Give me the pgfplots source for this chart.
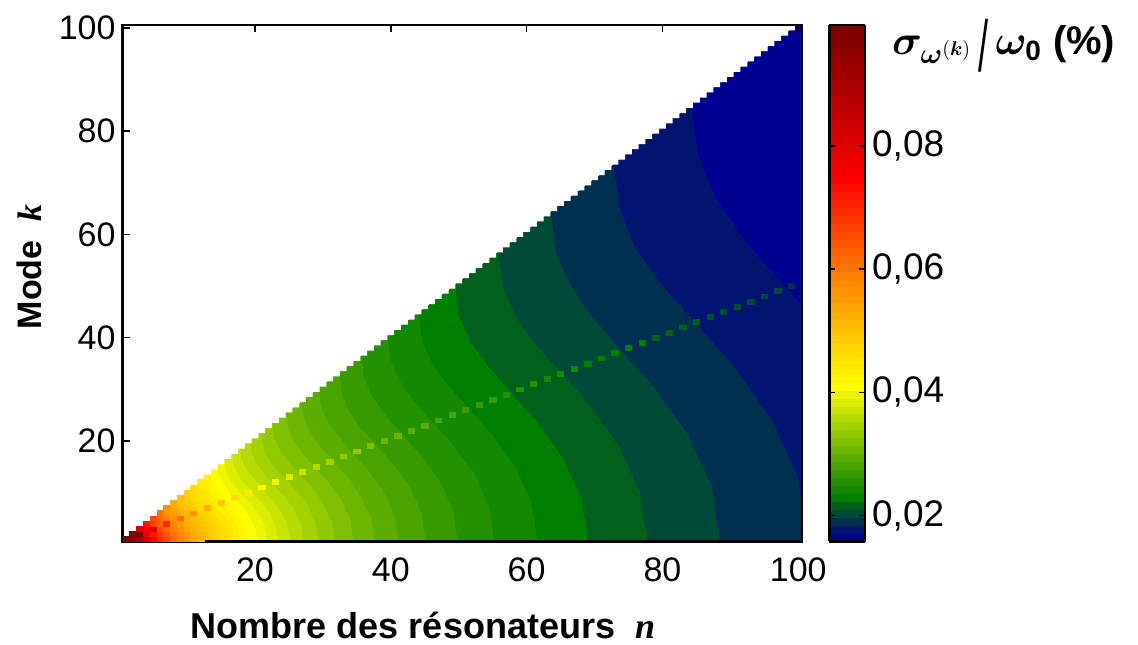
\documentclass[border=0pt]{standalone}
\usepackage{fontspec}
\setmainfont{Liberation Sans}
\newfontfamily\serifit{Liberation Serif}
\usepackage{amsmath}
\usepackage{bm}
\usepackage{graphicx}
\usepackage{pgfplots}
\pgfplotsset{compat=1.18}

% 64-level colormap (+ duplicate top entry)
\pgfplotsset{
  colormap={sigmap}{
    rgb255=(0,0,144) rgb255=(0,20,112) rgb255=(0,48,80) rgb255=(0,74,56)
    rgb255=(0,96,28) rgb255=(0,128,0) rgb255=(18,137,0) rgb255=(36,146,0)
    rgb255=(55,155,0) rgb255=(73,164,0) rgb255=(91,173,0) rgb255=(109,182,0)
    rgb255=(128,192,0) rgb255=(146,201,0) rgb255=(164,210,0) rgb255=(182,219,0)
    rgb255=(200,228,0) rgb255=(219,237,0) rgb255=(237,246,0) rgb255=(255,255,0)
    rgb255=(255,246,0) rgb255=(255,237,0) rgb255=(255,228,0) rgb255=(255,219,0)
    rgb255=(255,210,0) rgb255=(255,201,0) rgb255=(255,192,0) rgb255=(255,182,0)
    rgb255=(255,173,0) rgb255=(255,164,0) rgb255=(255,155,0) rgb255=(255,146,0)
    rgb255=(255,137,0) rgb255=(255,128,0) rgb255=(255,117,0) rgb255=(255,107,0)
    rgb255=(255,96,0) rgb255=(255,85,0) rgb255=(255,75,0) rgb255=(255,64,0)
    rgb255=(255,53,0) rgb255=(255,43,0) rgb255=(255,32,0) rgb255=(255,21,0)
    rgb255=(255,11,0) rgb255=(255,0,0) rgb255=(248,0,0) rgb255=(241,0,0)
    rgb255=(234,0,0) rgb255=(227,0,0) rgb255=(220,0,0) rgb255=(213,0,0)
    rgb255=(206,0,0) rgb255=(199,0,0) rgb255=(191,0,0) rgb255=(184,0,0)
    rgb255=(177,0,0) rgb255=(170,0,0) rgb255=(163,0,0) rgb255=(156,0,0)
    rgb255=(149,0,0) rgb255=(142,0,0) rgb255=(135,0,0) rgb255=(128,0,0)
    rgb255=(128,0,0)
  }
}

% field for n >= 12: columns of 9 vertices each (n, k, sigma/omega0 in %)
\pgfplotstableread{
x y v
12 0.5 0.05159
12 2.0625 0.05121
12 3.625 0.05018
12 5.1875 0.04874
12 6.75 0.04719
12 8.3125 0.04579
12 9.875 0.04469
12 11.4375 0.04399
12 13 0.04376
14 0.5 0.04803
14 2.3125 0.04768
14 4.125 0.04671
14 5.9375 0.04538
14 7.75 0.04394
14 9.5625 0.04263
14 11.375 0.04160
14 13.1875 0.04096
14 15 0.04074
16 0.5 0.04511
16 2.5625 0.04478
16 4.625 0.04387
16 6.6875 0.04262
16 8.75 0.04127
16 10.8125 0.04003
16 12.875 0.03907
16 14.9375 0.03847
16 17 0.03826
18 0.5 0.04267
18 2.8125 0.04236
18 5.125 0.04150
18 7.4375 0.04031
18 9.75 0.03903
18 12.0625 0.03787
18 14.375 0.03696
18 16.6875 0.03639
18 19 0.03619
20 0.5 0.04059
20 3.0625 0.04029
20 5.625 0.03948
20 8.1875 0.03835
20 10.75 0.03713
20 13.3125 0.03602
20 15.875 0.03516
20 18.4375 0.03461
20 21 0.03443
23 0.5 0.03797
23 3.4375 0.03769
23 6.375 0.03693
23 9.3125 0.03587
23 12.25 0.03473
23 15.1875 0.03370
23 18.125 0.03289
23 21.0625 0.03238
23 24 0.03221
26 0.5 0.03580
26 3.8125 0.03554
26 7.125 0.03482
26 10.4375 0.03382
26 13.75 0.03275
26 17.0625 0.03177
26 20.375 0.03101
26 23.6875 0.03053
26 27 0.03037
30 0.5 0.03341
30 4.3125 0.03316
30 8.125 0.03249
30 11.9375 0.03156
30 15.75 0.03056
30 19.5625 0.02965
30 23.375 0.02894
30 27.1875 0.02849
30 31 0.02834
35 0.5 0.03100
35 4.9375 0.03077
35 9.375 0.03015
35 13.8125 0.02929
35 18.25 0.02836
35 22.6875 0.02751
35 27.125 0.02685
35 31.5625 0.02644
35 36 0.02629
40 0.5 0.02905
40 5.5625 0.02884
40 10.625 0.02825
40 15.6875 0.02744
40 20.75 0.02657
40 25.8125 0.02578
40 30.875 0.02516
40 35.9375 0.02477
40 41 0.02464
45 0.5 0.02742
45 6.1875 0.02722
45 11.875 0.02667
45 17.5625 0.02590
45 23.25 0.02508
45 28.9375 0.02433
45 34.625 0.02375
45 40.3125 0.02338
45 46 0.02326
50 0.5 0.02605
50 6.8125 0.02586
50 13.125 0.02534
50 19.4375 0.02461
50 25.75 0.02383
50 32.0625 0.02312
50 38.375 0.02256
50 44.6875 0.02221
50 51 0.02210
55 0.5 0.02486
55 7.4375 0.02468
55 14.375 0.02418
55 21.3125 0.02349
55 28.25 0.02274
55 35.1875 0.02206
55 42.125 0.02153
55 49.0625 0.02120
55 56 0.02109
60 0.5 0.02381
60 8.0625 0.02364
60 15.625 0.02316
60 23.1875 0.02249
60 30.75 0.02178
60 38.3125 0.02113
60 45.875 0.02062
60 53.4375 0.02030
60 61 0.02020
65 0.5 0.02290
65 8.6875 0.02273
65 16.875 0.02227
65 25.0625 0.02163
65 33.25 0.02095
65 41.4375 0.02032
65 49.625 0.01984
65 57.8125 0.01953
65 66 0.01942
70 0.5 0.02207
70 9.3125 0.02191
70 18.125 0.02147
70 26.9375 0.02085
70 35.75 0.02019
70 44.5625 0.01959
70 53.375 0.01912
70 62.1875 0.01882
70 71 0.01872
75 0.5 0.02134
75 9.9375 0.02118
75 19.375 0.02076
75 28.8125 0.02016
75 38.25 0.01952
75 47.6875 0.01894
75 57.125 0.01848
75 66.5625 0.01820
75 76 0.01810
80 0.5 0.02067
80 10.5625 0.02052
80 20.625 0.02010
80 30.6875 0.01953
80 40.75 0.01891
80 50.8125 0.01834
80 60.875 0.01790
80 70.9375 0.01763
80 81 0.01753
85 0.5 0.02006
85 11.1875 0.01991
85 21.875 0.01951
85 32.5625 0.01895
85 43.25 0.01835
85 53.9375 0.01780
85 64.625 0.01738
85 75.3125 0.01711
85 86 0.01701
90 0.5 0.01950
90 11.8125 0.01936
90 23.125 0.01897
90 34.4375 0.01842
90 45.75 0.01784
90 57.0625 0.01731
90 68.375 0.01689
90 79.6875 0.01663
90 91 0.01654
95 0.5 0.01898
95 12.4375 0.01884
95 24.375 0.01846
95 36.3125 0.01793
95 48.25 0.01736
95 60.1875 0.01684
95 72.125 0.01644
95 84.0625 0.01619
95 96 0.01610
100.5 0.5 0.01846
100.5 13.125 0.01832
100.5 25.75 0.01795
100.5 38.375 0.01744
100.5 51 0.01689
100.5 63.625 0.01638
100.5 76.25 0.01599
100.5 88.875 0.01574
100.5 101.5 0.01566
}\fieldtable

% single cells: all cells for n <= 12, and the mode k=(n+1)/2 for odd n
\pgfplotstableread{
x y v
1 1 0.0996
2 1 0.1025
2 2 0.09446
3 1 0.09045
3 2 0.09824
3 3 0.08055
4 1 0.08167
4 2 0.07809
4 3 0.07424
4 4 0.07152
5 1 0.07496
5 2 0.07248
5 3 0.08020
5 4 0.06679
5 5 0.06502
6 1 0.06963
6 2 0.06785
6 3 0.06551
6 4 0.06317
6 5 0.06127
6 6 0.06005
7 1 0.06528
7 2 0.06396
7 3 0.06213
7 4 0.06946
7 5 0.05836
7 6 0.05696
7 7 0.05608
8 1 0.06164
8 2 0.06063
8 3 0.05918
8 4 0.05754
8 5 0.05593
8 6 0.05454
8 7 0.05347
8 8 0.05281
9 1 0.05854
9 2 0.05775
9 3 0.05659
9 4 0.05522
9 5 0.06213
9 6 0.05250
9 7 0.05140
9 8 0.05057
9 9 0.05006
10 1 0.05586
10 2 0.05523
10 3 0.05428
10 4 0.05313
10 5 0.05191
10 6 0.05072
10 7 0.04965
10 8 0.04878
10 9 0.04810
10 10 0.04770
11 1 0.05351
11 2 0.05300
11 3 0.05222
11 4 0.05125
11 5 0.05019
11 6 0.05671
11 7 0.04811
11 8 0.04723
11 9 0.04650
11 10 0.04597
11 11 0.04565
12 1 0.05144
12 2 0.05102
12 3 0.05037
12 4 0.04954
12 5 0.04862
12 6 0.04766
12 7 0.04674
12 8 0.04588
12 9 0.04515
12 10 0.04455
12 11 0.04411
12 12 0.04385
13 7 0.05251
15 8 0.04912
17 9 0.04631
19 10 0.04393
21 11 0.04189
23 12 0.04011
25 13 0.03853
27 14 0.03713
29 15 0.03587
31 16 0.03473
33 17 0.03370
35 18 0.03275
37 19 0.03187
39 20 0.03107
41 21 0.03032
43 22 0.02962
45 23 0.02897
47 24 0.02836
49 25 0.02779
51 26 0.02725
53 27 0.02674
55 28 0.02626
57 29 0.02580
59 30 0.02536
61 31 0.02495
63 32 0.02456
65 33 0.02418
67 34 0.02383
69 35 0.02348
71 36 0.02315
73 37 0.02284
75 38 0.02254
77 39 0.02225
79 40 0.02197
81 41 0.02170
83 42 0.02144
85 43 0.02119
87 44 0.02094
89 45 0.02071
91 46 0.02048
93 47 0.02026
95 48 0.02005
97 49 0.01985
99 50 0.01965
}\celltable

\begin{document}
\begin{tikzpicture}
\path[use as bounding box] (-61.3pt,-51.25pt) rectangle (507.7pt,270.75pt);
\begin{axis}[
  at={(0,0)}, anchor=south west,
  scale only axis, width=339.5pt, height=258.1pt,
  xmin=0.5, xmax=100.5, ymin=0.5, ymax=100.5,
  xtick={20,40,60,80,100}, ytick={20,40,60,80,100},
  xtick pos=upper, xticklabel pos=lower, ytick pos=left,
  tick align=inside, major tick length=3.5pt,
  every tick/.style={black, line width=0.8pt},
  axis line style={line width=1.1pt},
  axis on top,
  /pgf/number format/assume math mode=true,
  tick label style={font=\fontsize{17}{20}\selectfont},
  xticklabel style={yshift=-4.5pt},
  xlabel={Nombre des résonateurs~~{\serifit\bfseries\itshape n}},
  xlabel style={font=\fontsize{18}{21}\selectfont\bfseries,
    at={(axis description cs:0.4425,0)}, anchor=base, yshift=-48.25pt},
  ylabel={Mode~~{\serifit\bfseries\itshape k}},
  ylabel style={font=\fontsize{17}{20}\selectfont\bfseries,
    at={(axis description cs:-0.119,0.532)}, anchor=base},
  colormap name=sigmap,
  colormap access=piecewise constant,
  point meta min=0.0158, point meta max=0.0996,
  colorbar,
  colorbar style={
    at={(parent axis.north east)}, anchor=north west, xshift=5.4pt,
    width=17.8pt,
    ytick={0.02,0.04,0.06,0.08},
    scaled y ticks=false,
    yticklabel style={font=\fontsize{18.5}{22}\selectfont,
      /pgf/number format/.cd, fixed, fixed zerofill, precision=2,
      use comma, assume math mode=true},
    tick align=inside, major tick length=3pt,
    every tick/.style={black, line width=0.8pt},
    axis line style={line width=1.1pt},
  },
]
\addplot[surf, shader=interp, mesh/ordering=y varies, mesh/rows=9, mesh/cols=22,
  point meta=explicit]
  table[x=x, y=y, meta=v] {\fieldtable};
\addplot[scatter, only marks, mark=square*, scatter src=explicit,
  scatter/use mapped color={draw=mapped color, fill=mapped color},
  mark size=1.2pt, mark options={xscale=1.315, line width=0.25pt}]
  table[x=x, y=y, meta=v] {\celltable};
% white area above the staircase edge k = n
\addplot[draw=none, fill=white, const plot] coordinates {
(0.5,102) (0.5,1.5) (1.5,2.5) (2.5,3.5) (3.5,4.5) (4.5,5.5) (5.5,6.5) (6.5,7.5)
(7.5,8.5) (8.5,9.5) (9.5,10.5) (10.5,11.5) (11.5,12.5) (12.5,13.5) (13.5,14.5)
(14.5,15.5) (15.5,16.5) (16.5,17.5) (17.5,18.5) (18.5,19.5) (19.5,20.5)
(20.5,21.5) (21.5,22.5) (22.5,23.5) (23.5,24.5) (24.5,25.5) (25.5,26.5)
(26.5,27.5) (27.5,28.5) (28.5,29.5) (29.5,30.5) (30.5,31.5) (31.5,32.5)
(32.5,33.5) (33.5,34.5) (34.5,35.5) (35.5,36.5) (36.5,37.5) (37.5,38.5)
(38.5,39.5) (39.5,40.5) (40.5,41.5) (41.5,42.5) (42.5,43.5) (43.5,44.5)
(44.5,45.5) (45.5,46.5) (46.5,47.5) (47.5,48.5) (48.5,49.5) (49.5,50.5)
(50.5,51.5) (51.5,52.5) (52.5,53.5) (53.5,54.5) (54.5,55.5) (55.5,56.5)
(56.5,57.5) (57.5,58.5) (58.5,59.5) (59.5,60.5) (60.5,61.5) (61.5,62.5)
(62.5,63.5) (63.5,64.5) (64.5,65.5) (65.5,66.5) (66.5,67.5) (67.5,68.5)
(68.5,69.5) (69.5,70.5) (70.5,71.5) (71.5,72.5) (72.5,73.5) (73.5,74.5)
(74.5,75.5) (75.5,76.5) (76.5,77.5) (77.5,78.5) (78.5,79.5) (79.5,80.5)
(80.5,81.5) (81.5,82.5) (82.5,83.5) (83.5,84.5) (84.5,85.5) (85.5,86.5)
(86.5,87.5) (87.5,88.5) (88.5,89.5) (89.5,90.5) (90.5,91.5) (91.5,92.5)
(92.5,93.5) (93.5,94.5) (94.5,95.5) (95.5,96.5) (96.5,97.5) (97.5,98.5)
(98.5,99.5) (99.5,100.5) (100.5,100.5) (100.5,102)
};
\end{axis}
\node[anchor=base west, font=\fontsize{20}{24}\selectfont] at (381.2pt,243.5pt)
  {$\bm{\sigma}_{\bm{\omega}^{(\bm{k})}}$\,\raisebox{-8.5pt}{\scalebox{0.9}[1.8]{/}}\,$\bm{\omega}_{\mathbf{0}}$~\textbf{(\%)}};
\end{tikzpicture}
\end{document}
